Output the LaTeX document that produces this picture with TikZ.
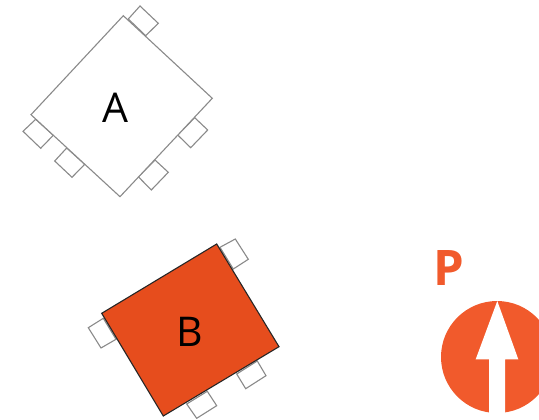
\documentclass[tikz,border=0pt]{standalone}
\usepackage{fontspec}
\setmainfont{Open Sans}
\definecolor{bfill}{HTML}{E64D1D}
\definecolor{porange}{HTML}{F15A2C}
\definecolor{tabline}{HTML}{8A8A8A}
\tikzset{
  tabbox/.style={draw=tabline, line width=1.1pt, fill=white},
  abox/.style={draw=tabline, line width=1.1pt, fill=white},
  bbox/.style={draw=black!85, line width=1.1pt, fill=bfill},
  letter/.style={font=\fontsize{41}{41}\selectfont, inner sep=0pt, text=black},
}

\begin{document}
\begin{tikzpicture}[x=1pt, y=-1pt]
  \useasboundingbox (0,0) rectangle (539,420);
  \clip (0,0) rectangle (539,420);
  % tabs of A
  \foreach \p/\q/\r/\s in {
    {128.3,19}/{140,6}/{158.3,23.3}/{145.7,35.7},
    {177.7,135}/{190.7,147.7}/{207.7,130}/{194.7,117.7},
    {138.3,176.7}/{151.3,190}/{168.3,172.3}/{155,160},
    {35.7,119.3}/{23,131.3}/{40.7,148.3}/{53.3,135.3},
    {66.7,148}/{54.7,161}/{72,177.3}/{84.7,164.3}}
    \draw[tabbox] (\p) -- (\q) -- (\r) -- (\s) -- cycle;
  \draw[abox] (123.3,15.7) -- (212.3,98.3) -- (120,196.7) -- (31,114.7) -- cycle;
  \node[letter] (lblA) at (115.5,108) {A};
  % tabs of B
  \foreach \p/\q/\r/\s in {
    {220,247.3}/{235.3,239}/{248.3,259.3}/{233.3,269},
    {103.3,318.3}/{88.3,327.7}/{101,348}/{116,339.3},
    {186.7,404}/{196.7,418.3}/{216.7,405.7}/{207.3,391.3},
    {236.7,374}/{245.7,388.7}/{266,375.7}/{257.3,361}}
    \draw[tabbox] (\p) -- (\q) -- (\r) -- (\s) -- cycle;
  \draw[bbox] (216.7,244) -- (279,346.7) -- (163.3,416) -- (101.7,313.3) -- cycle;
  \node[letter] (lblB) at (190,332) {B};
  % P marker
  \node[font=\fontsize{49}{49}\selectfont\bfseries, text=porange, inner sep=0pt] (lblP) at (449,268) {P};
  \fill[porange] (497,357) circle (56);
  \fill[white] (497.3,301) -- (518.3,359.3) -- (505,359.3) -- (505,414) -- (489,414) -- (489,359.3) -- (475.7,359.3) -- cycle;
\end{tikzpicture}
\end{document}
